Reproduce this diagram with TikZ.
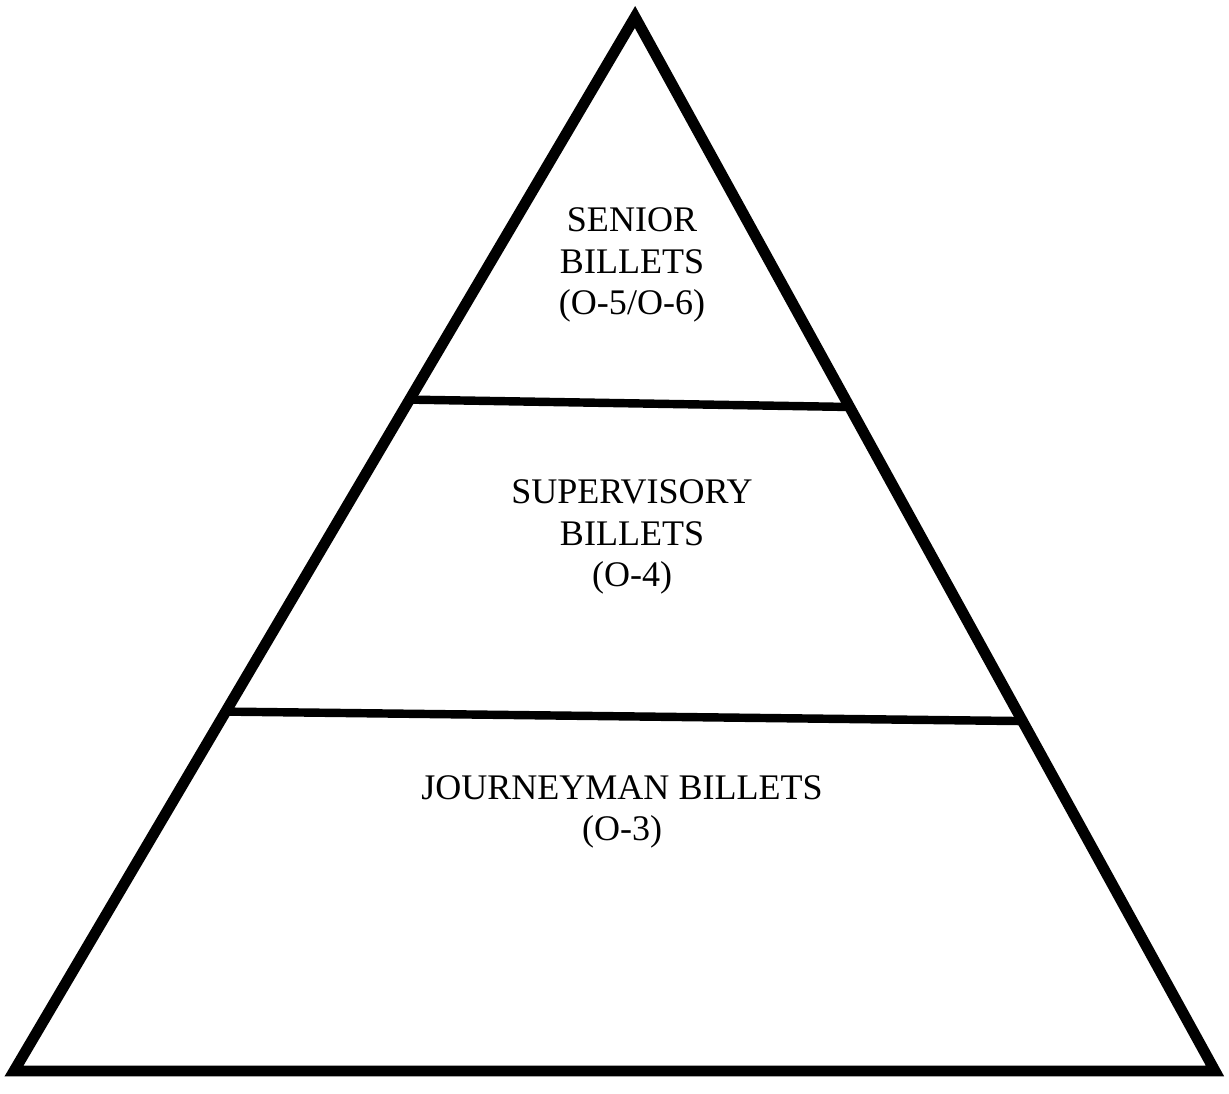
\documentclass[tikz,border=0pt]{standalone}
\usepackage{fontspec}
\setmainfont{Liberation Serif}
\usetikzlibrary{calc, positioning}

\begin{document}
\begin{tikzpicture}[x=0.02cm, y=-0.02cm,
    edge/.style={line width=6.2pt, line join=miter, black},
    tier/.style={line width=4.8pt, black},
    label/.style={align=center, font=\fontsize{20.5}{23.5}\selectfont}]
                % Page frame
                \useasboundingbox (0,0) rectangle (1229,1093);

                % Pyramid corners
                \coordinate (apex) at (635,17);
                \coordinate (bl) at (14,1071);
                \coordinate (br) at (1215,1071);

                % Outline
                \draw[edge] (apex) -- (bl) -- (br) -- cycle;

                % Tier dividers
                \coordinate (t1l) at ($(apex)!0.363!(bl)$);
                \coordinate (t1r) at ($(apex)!0.370!(br)$);
                \coordinate (t2l) at ($(apex)!0.659!(bl)$);
                \coordinate (t2r) at ($(apex)!0.668!(br)$);
                \draw[tier] (t1l) -- (t1r);
                \draw[tier] (t2l) -- (t2r);

                % Tier labels
                \node[label] (senior) at (632,265) {SENIOR\\BILLETS\\(O-5/O-6)};
                \node[label] (super) at (632,537) {SUPERVISORY\\BILLETS\\(O-4)};
                \node[label] (journey) at (622,812) {JOURNEYMAN BILLETS\\(O-3)};
\end{tikzpicture}
\end{document}
